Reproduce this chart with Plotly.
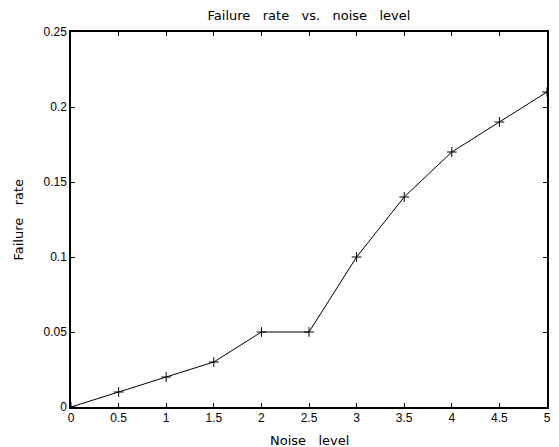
import plotly.graph_objects as go

# Failure rate measured at each noise level
noise_level = [0, 0.5, 1, 1.5, 2, 2.5, 3, 3.5, 4, 4.5, 5]
failure_rate = [0, 0.01, 0.02, 0.03, 0.05, 0.05, 0.10, 0.14, 0.17, 0.19, 0.21]

x_ticks = [0, 0.5, 1, 1.5, 2, 2.5, 3, 3.5, 4, 4.5, 5]
x_ticklabels = ["0", "0.5", "1", "1.5", "2", "2.5", "3", "3.5", "4", "4.5", "5"]
y_ticks = [0, 0.05, 0.1, 0.15, 0.2, 0.25]
y_ticklabels = ["0", "0.05", "0.1", "0.15", "0.2", "0.25"]

TICK_FONT = "Liberation Sans, Arial, Helvetica, sans-serif"
LABEL_FONT = "DejaVu Sans, Verdana, sans-serif"

fig = go.Figure(
    go.Scatter(
        x=noise_level,
        y=failure_rate,
        mode="lines+markers",
        line=dict(color="black", width=1),
        marker=dict(symbol="cross-thin", size=7, line=dict(color="black", width=1)),
        showlegend=False,
    )
)

axis_common = dict(
    showgrid=False,
    zeroline=False,
    showline=True,
    linecolor="black",
    linewidth=1.5,
    mirror="ticks",
    ticks="inside",
    ticklen=4,
    tickwidth=1,
    tickcolor="black",
    tickfont=dict(family=TICK_FONT, size=12, color="black"),
    automargin=False,
)

label_font = dict(family=LABEL_FONT, size=13, color="black")

fig.update_layout(
    width=559,
    height=447,
    margin=dict(l=71, r=12, t=32, b=40),
    paper_bgcolor="white",
    plot_bgcolor="white",
    font=dict(family=TICK_FONT, size=12, color="black"),
    title=dict(
        text="Failure   rate   vs.   noise   level",
        x=(71 + 547) / 2 / 559,
        xanchor="center",
        y=1 - 15 / 447,
        yanchor="middle",
        font=label_font,
    ),
    xaxis=dict(
        range=[0, 5],
        tickvals=x_ticks,
        ticktext=x_ticklabels,
        ticklabelstandoff=-1,
        **axis_common,
    ),
    yaxis=dict(
        range=[0, 0.25],
        tickvals=y_ticks,
        ticktext=y_ticklabels,
        ticklabelstandoff=0,
        **axis_common,
    ),
    annotations=[
        # x-axis label below the tick labels
        dict(
            text="Noise   level",
            xref="paper", yref="paper",
            x=0.5, y=0,
            xanchor="center", yanchor="middle",
            yshift=-33,
            showarrow=False,
            font=label_font,
        ),
        # y-axis label, rotated, left of the tick labels
        dict(
            text="Failure   rate",
            xref="paper", yref="paper",
            x=0, y=0.5,
            xanchor="center", yanchor="middle",
            xshift=-53,
            textangle=-90,
            showarrow=False,
            font=label_font,
        ),
    ],
)

fig.write_html("out.html")
